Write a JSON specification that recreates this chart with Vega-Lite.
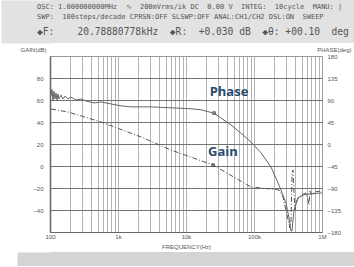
{
  "$schema": "https://vega.github.io/schema/vega-lite/v6.json",
  "padding": 0,
  "spacing": 2,
  "background": "white",
  "config": {"font": "Liberation Sans", "view": {"stroke": null}},
  "vconcat": [
    {
      "width": 305,
      "height": 43,
      "view": {"fill": "#e2e2e2", "stroke": null},
      "data": {"values": [
        {"line": 1, "text": "OSC: 1.000000000MHz\u00a0\u00a0\u223f\u00a0\u00a0200mVrms/ik DC\u00a0\u00a00.00 V\u00a0\u00a0INTEG:\u00a0\u00a010cycle\u00a0\u00a0MANU: |"},
        {"line": 2, "text": "SWP:\u00a0\u00a0100steps/decade CPRSN:OFF SLSWP:OFF ANAL:CH1/CH2 DSL:ON\u00a0\u00a0SWEEP"},
        {"line": 3, "text": "\u25c6F:\u00a0\u00a0\u00a0\u00a020.78880778kHz\u00a0\u00a0\u25c6R:\u00a0\u00a0+0.030 dB\u00a0\u00a0\u25c6\u03b8: +00.10\u00a0\u00a0deg"}
      ]},
      "encoding": {
        "x": {"value": -13},
        "y": {
          "field": "line", "type": "quantitative",
          "scale": {"domain": [0.3, 4.6], "reverse": true, "nice": false, "zero": false},
          "axis": {"labels": false, "ticks": false, "grid": false, "title": null, "domain": true, "domainColor": "#e2e2e2", "domainWidth": 49, "offset": 24.5}
        },
        "text": {"field": "text"}
      },
      "layer": [
        {"transform": [{"filter": "datum.line < 3"}], "mark": {"type": "text", "align": "left", "baseline": "middle", "font": "DejaVu Sans Mono", "fontSize": 7, "color": "#555"}},
        {"transform": [{"filter": "datum.line == 3"}], "mark": {"type": "text", "align": "left", "baseline": "top", "font": "DejaVu Sans Mono", "fontSize": 9.6, "color": "#555"}}
      ]
    },
    {
      "width": 272,
      "height": 176,
      "view": {"stroke": "#999", "fill": "white"},
      "data": {"values": [
        {"s": "gain", "f": 103.4, "v": 51.8},
        {"s": "gain", "f": 183.9, "v": 49.1},
        {"s": "gain", "f": 562.3, "v": 40},
        {"s": "gain", "f": 2179, "v": 26.4},
        {"s": "gain", "f": 6017, "v": 14.5},
        {"s": "gain", "f": 24950, "v": 0.9},
        {"s": "gain", "f": 90340, "v": -19.1},
        {"s": "gain", "f": 126800, "v": -20},
        {"s": "gain", "f": 177800, "v": -20.9},
        {"s": "gain", "f": 233200, "v": -21.8},
        {"s": "gain", "f": 267000, "v": -28.2},
        {"s": "gain", "f": 305700, "v": -44.5},
        {"s": "gain", "f": 338400, "v": -56.4},
        {"s": "gain", "f": 350100, "v": -50.9},
        {"s": "gain", "f": 362200, "v": -8.2},
        {"s": "gain", "f": 374600, "v": -3.6},
        {"s": "gain", "f": 387600, "v": -24.5},
        {"s": "gain", "f": 400900, "v": -40},
        {"s": "gain", "f": 429000, "v": -30.9},
        {"s": "gain", "f": 491200, "v": -26.4},
        {"s": "gain", "f": 581900, "v": -24.5},
        {"s": "gain", "f": 622500, "v": -30.9},
        {"s": "gain", "f": 644100, "v": -35.4},
        {"s": "gain", "f": 666300, "v": -22.7},
        {"s": "gain", "f": 712800, "v": -26.4},
        {"s": "gain", "f": 762700, "v": -23.6},
        {"s": "gain", "f": 1000000, "v": -22.7},
        {"s": "gainLabel", "f": 34990, "v": 12.7, "t": "Gain"},
        {"s": "gainMark", "f": 24950, "v": 0.9, "t": "a"},
        {"s": "phase", "f": 103.4, "v": 98},
        {"s": "phase", "f": 107.0, "v": 112},
        {"s": "phase", "f": 110.7, "v": 88},
        {"s": "phase", "f": 114.5, "v": 108},
        {"s": "phase", "f": 118.4, "v": 92},
        {"s": "phase", "f": 122.5, "v": 104},
        {"s": "phase", "f": 126.8, "v": 90},
        {"s": "phase", "f": 131.1, "v": 102},
        {"s": "phase", "f": 135.6, "v": 92},
        {"s": "phase", "f": 145.1, "v": 100},
        {"s": "phase", "f": 155.3, "v": 92},
        {"s": "phase", "f": 166.2, "v": 98},
        {"s": "phase", "f": 183.9, "v": 92},
        {"s": "phase", "f": 203.6, "v": 96},
        {"s": "phase", "f": 241.2, "v": 90},
        {"s": "phase", "f": 285.7, "v": 92},
        {"s": "phase", "f": 338.4, "v": 88},
        {"s": "phase", "f": 443.8, "v": 84},
        {"s": "phase", "f": 562.3, "v": 86},
        {"s": "phase", "f": 789.1, "v": 82},
        {"s": "phase", "f": 1107, "v": 78},
        {"s": "phase", "f": 1553, "v": 76},
        {"s": "phase", "f": 3057, "v": 76},
        {"s": "phase", "f": 6017, "v": 74},
        {"s": "phase", "f": 11845, "v": 72},
        {"s": "phase", "f": 16619, "v": 70},
        {"s": "phase", "f": 25810, "v": 63},
        {"s": "phase", "f": 45900, "v": 39},
        {"s": "phase", "f": 64410, "v": 22},
        {"s": "phase", "f": 90340, "v": 4},
        {"s": "phase", "f": 126800, "v": -18},
        {"s": "phase", "f": 177800, "v": -47},
        {"s": "phase", "f": 210700, "v": -70},
        {"s": "phase", "f": 249600, "v": -94},
        {"s": "phase", "f": 295600, "v": -121},
        {"s": "phase", "f": 327100, "v": -151},
        {"s": "phase", "f": 350100, "v": -178},
        {"s": "phase", "f": 362200, "v": -178},
        {"s": "phase", "f": 387600, "v": -135},
        {"s": "phase", "f": 443800, "v": -110},
        {"s": "phase", "f": 543600, "v": -104},
        {"s": "phase", "f": 689100, "v": -102},
        {"s": "phase", "f": 1000000, "v": -100},
        {"s": "phaseLabel", "f": 42870, "v": 106.4, "t": "Phase"},
        {"s": "phaseMark", "f": 25810, "v": 63, "t": "a"}
      ]},
      "encoding": {
        "x": {
          "field": "f", "type": "quantitative",
          "scale": {"type": "log", "domain": [100, 1000000], "nice": false},
          "axis": {
            "values": [100,200,300,400,500,600,700,800,900,1000,2000,3000,4000,5000,6000,7000,8000,9000,10000,20000,30000,40000,50000,60000,70000,80000,90000,100000,200000,300000,400000,500000,600000,700000,800000,900000,1000000],
            "labelExpr": "datum.value == 100 ? '100' : datum.value == 1000 ? '1k' : datum.value == 10000 ? '10k' : datum.value == 100000 ? '100k' : datum.value == 1000000 ? '1M' : ''",
            "grid": true, "gridColor": "#a0a0a0", "gridWidth": 0.8,
            "ticks": false, "labelFlush": false, "labelOverlap": false,
            "labelFontSize": 6, "labelColor": "#555", "labelPadding": 1,
            "domainColor": "#666", "domainWidth": 1.2,
            "title": "FREQUENCY(Hz)", "titleFontSize": 6, "titleFontWeight": "normal", "titleColor": "#555", "titlePadding": 4
          }
        }
      },
      "layer": [
        {
          "encoding": {
            "y": {
              "field": "v", "type": "quantitative",
              "scale": {"domain": [-60, 100], "nice": false, "zero": false},
              "axis": {
                "values": [-40,-20,0,20,40,60,80],
                "grid": true, "gridColor": "#727272", "gridWidth": 1.2,
                "ticks": false, "labelFontSize": 6, "labelColor": "#555", "labelPadding": 7,
                "domainColor": "#666", "domainWidth": 1.5,
                "minExtent": 49, "maxExtent": 49,
                "title": "GAIN(dB)", "titleAngle": 0, "titleX": -30, "titleY": -4,
                "titleAlign": "left", "titleBaseline": "bottom",
                "titleFontSize": 6, "titleFontWeight": "normal", "titleColor": "#555"
              }
            }
          },
          "layer": [
            {"transform": [{"filter": "datum.s == 'gain'"}], "mark": {"type": "line", "color": "#555", "strokeWidth": 1, "strokeDash": [5, 2, 1, 2]}},
            {"transform": [{"filter": "datum.s == 'gainLabel'"}], "mark": {"type": "text", "font": "Open Sans", "fontSize": 13, "fontWeight": "bold", "color": "#2b4a70"}, "encoding": {"text": {"field": "t"}}},
            {"transform": [{"filter": "datum.s == 'gainMark'"}], "mark": {"type": "text", "fontSize": 8, "color": "#333"}, "encoding": {"text": {"field": "t"}}}
          ]
        },
        {
          "encoding": {
            "y": {
              "field": "v", "type": "quantitative",
              "scale": {"domain": [-180, 180], "nice": false, "zero": false},
              "axis": {
                "orient": "right",
                "values": [-180,-135,-90,-45,0,45,90,135,180],
                "grid": false, "ticks": false, "domain": false,
                "labelFontSize": 6, "labelColor": "#555", "labelPadding": 5,
                "title": "PHASE(deg)", "titleAngle": 0, "titleX": 29, "titleY": -4,
                "titleAlign": "right", "titleBaseline": "bottom",
                "titleFontSize": 6, "titleFontWeight": "normal", "titleColor": "#555"
              }
            }
          },
          "layer": [
            {"transform": [{"filter": "datum.s == 'phase'"}], "mark": {"type": "line", "color": "#666", "strokeWidth": 1}},
            {"transform": [{"filter": "datum.s == 'phaseLabel'"}], "mark": {"type": "text", "font": "Open Sans", "fontSize": 13, "fontWeight": "bold", "color": "#2b4a70"}, "encoding": {"text": {"field": "t"}}},
            {"transform": [{"filter": "datum.s == 'phaseMark'"}], "mark": {"type": "text", "fontSize": 8, "color": "#333"}, "encoding": {"text": {"field": "t"}}}
          ]
        }
      ],
      "resolve": {"scale": {"y": "independent"}}
    },
    {
      "width": 305,
      "height": 14,
      "view": {"fill": "#d4d4d4", "stroke": null},
      "data": {"values": [{"t": ""}]},
      "mark": {"type": "text"},
      "encoding": {
        "y": {"field": "t", "type": "nominal", "axis": {"labels": false, "ticks": false, "grid": false, "title": null, "domain": true, "domainColor": "#d4d4d4", "domainWidth": 33, "offset": 16.5}},
        "text": {"field": "t"}
      }
    }
  ]
}
